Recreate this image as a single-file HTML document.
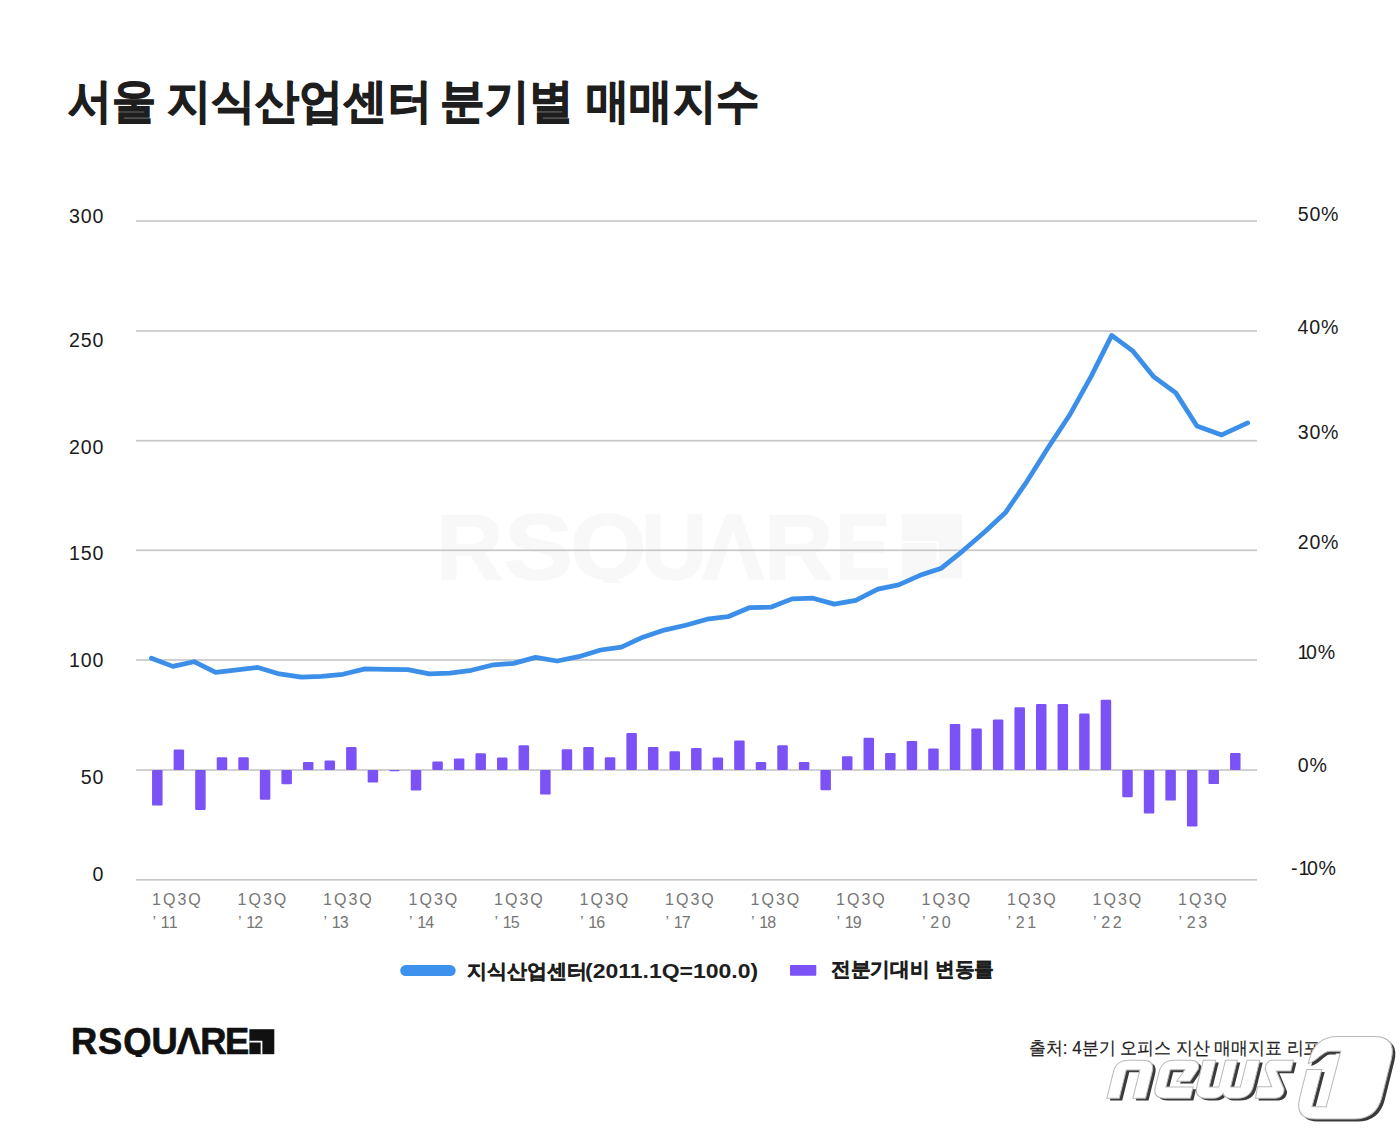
<!DOCTYPE html>
<html><head><meta charset="utf-8"><style>
html,body{margin:0;padding:0;background:#fff;}
body{width:1400px;height:1134px;position:relative;overflow:hidden;font-family:"Liberation Sans",sans-serif;}
.t{position:absolute;white-space:nowrap;}
svg{position:absolute;left:0;top:0;}
</style></head><body>
<div style="position:absolute;left:0;top:480px;width:1000px;height:103px;overflow:hidden;font-size:92px;line-height:92px;font-weight:bold;color:#f8f8f8;-webkit-text-stroke:1.5px #f8f8f8;z-index:0;"><div style="position:absolute;left:436.30px;top:21.12px;transform:scaleX(1.0109);transform-origin:0 0;">R</div><div style="position:absolute;left:503.56px;top:21.12px;transform:scaleX(1.1214);transform-origin:0 0;">S</div><div style="position:absolute;left:570.24px;top:21.12px;transform:scaleX(1.0666);transform-origin:0 0;">Q</div><div style="position:absolute;left:640.91px;top:21.12px;transform:scaleX(0.9960);transform-origin:0 0;">U</div><div style="position:absolute;left:701.97px;top:21.12px;transform:scaleX(1.0120);transform-origin:0 0;">&#923;</div><div style="position:absolute;left:763.58px;top:21.12px;transform:scaleX(1.0469);transform-origin:0 0;">R</div><div style="position:absolute;left:834.86px;top:21.12px;transform:scaleX(0.9035);transform-origin:0 0;">E</div></div>
<svg width="1400" height="1134" viewBox="0 0 1400 1134">
<path fill="#f8f8f8" d="M901.7 514h60.3v64.5h-60.3z"/><path fill="none" stroke="#fff" stroke-width="2.4" d="M901.7 542.1H937.6V578.5"/>
<rect x="136" y="220.15" width="1121" height="1.7" fill="#c8c8c8"/>
<rect x="136" y="330.15" width="1121" height="1.7" fill="#c8c8c8"/>
<rect x="136" y="439.85" width="1121" height="1.7" fill="#c8c8c8"/>
<rect x="136" y="549.45" width="1121" height="1.7" fill="#c8c8c8"/>
<rect x="136" y="659.15" width="1121" height="1.7" fill="#c8c8c8"/>
<rect x="136" y="769.15" width="1121" height="1.7" fill="#c8c8c8"/>
<rect x="136" y="878.95" width="1121" height="1.7" fill="#c8c8c8"/>
<rect x="152.05" y="770.00" width="10.5" height="35.60" rx="1.2" fill="#7b52f5"/>
<rect x="173.61" y="749.50" width="10.5" height="20.50" rx="1.2" fill="#7b52f5"/>
<rect x="195.17" y="770.00" width="10.5" height="40.00" rx="1.2" fill="#7b52f5"/>
<rect x="216.73" y="757.30" width="10.5" height="12.70" rx="1.2" fill="#7b52f5"/>
<rect x="238.29" y="757.30" width="10.5" height="12.70" rx="1.2" fill="#7b52f5"/>
<rect x="259.85" y="770.00" width="10.5" height="29.80" rx="1.2" fill="#7b52f5"/>
<rect x="281.41" y="770.00" width="10.5" height="14.30" rx="1.2" fill="#7b52f5"/>
<rect x="302.97" y="762.00" width="10.5" height="8.00" rx="1.2" fill="#7b52f5"/>
<rect x="324.53" y="760.50" width="10.5" height="9.50" rx="1.2" fill="#7b52f5"/>
<rect x="346.09" y="747.00" width="10.5" height="23.00" rx="1.2" fill="#7b52f5"/>
<rect x="367.65" y="770.00" width="10.5" height="12.40" rx="1.2" fill="#7b52f5"/>
<rect x="389.21" y="770.00" width="10.5" height="1.20" rx="1.2" fill="#7b52f5"/>
<rect x="410.77" y="770.00" width="10.5" height="20.50" rx="1.2" fill="#7b52f5"/>
<rect x="432.33" y="761.40" width="10.5" height="8.60" rx="1.2" fill="#7b52f5"/>
<rect x="453.89" y="758.60" width="10.5" height="11.40" rx="1.2" fill="#7b52f5"/>
<rect x="475.45" y="753.20" width="10.5" height="16.80" rx="1.2" fill="#7b52f5"/>
<rect x="497.01" y="757.50" width="10.5" height="12.50" rx="1.2" fill="#7b52f5"/>
<rect x="518.57" y="745.30" width="10.5" height="24.70" rx="1.2" fill="#7b52f5"/>
<rect x="540.13" y="770.00" width="10.5" height="24.60" rx="1.2" fill="#7b52f5"/>
<rect x="561.69" y="749.30" width="10.5" height="20.70" rx="1.2" fill="#7b52f5"/>
<rect x="583.25" y="747.00" width="10.5" height="23.00" rx="1.2" fill="#7b52f5"/>
<rect x="604.81" y="757.30" width="10.5" height="12.70" rx="1.2" fill="#7b52f5"/>
<rect x="626.37" y="733.10" width="10.5" height="36.90" rx="1.2" fill="#7b52f5"/>
<rect x="647.93" y="747.00" width="10.5" height="23.00" rx="1.2" fill="#7b52f5"/>
<rect x="669.49" y="751.20" width="10.5" height="18.80" rx="1.2" fill="#7b52f5"/>
<rect x="691.05" y="748.00" width="10.5" height="22.00" rx="1.2" fill="#7b52f5"/>
<rect x="712.61" y="757.50" width="10.5" height="12.50" rx="1.2" fill="#7b52f5"/>
<rect x="734.17" y="740.60" width="10.5" height="29.40" rx="1.2" fill="#7b52f5"/>
<rect x="755.73" y="762.00" width="10.5" height="8.00" rx="1.2" fill="#7b52f5"/>
<rect x="777.29" y="745.30" width="10.5" height="24.70" rx="1.2" fill="#7b52f5"/>
<rect x="798.85" y="762.00" width="10.5" height="8.00" rx="1.2" fill="#7b52f5"/>
<rect x="820.41" y="770.00" width="10.5" height="20.30" rx="1.2" fill="#7b52f5"/>
<rect x="841.97" y="756.20" width="10.5" height="13.80" rx="1.2" fill="#7b52f5"/>
<rect x="863.53" y="737.80" width="10.5" height="32.20" rx="1.2" fill="#7b52f5"/>
<rect x="885.09" y="753.00" width="10.5" height="17.00" rx="1.2" fill="#7b52f5"/>
<rect x="906.65" y="741.00" width="10.5" height="29.00" rx="1.2" fill="#7b52f5"/>
<rect x="928.21" y="748.50" width="10.5" height="21.50" rx="1.2" fill="#7b52f5"/>
<rect x="949.77" y="724.10" width="10.5" height="45.90" rx="1.2" fill="#7b52f5"/>
<rect x="971.33" y="728.60" width="10.5" height="41.40" rx="1.2" fill="#7b52f5"/>
<rect x="992.89" y="719.60" width="10.5" height="50.40" rx="1.2" fill="#7b52f5"/>
<rect x="1014.45" y="707.30" width="10.5" height="62.70" rx="1.2" fill="#7b52f5"/>
<rect x="1036.01" y="704.00" width="10.5" height="66.00" rx="1.2" fill="#7b52f5"/>
<rect x="1057.57" y="704.00" width="10.5" height="66.00" rx="1.2" fill="#7b52f5"/>
<rect x="1079.13" y="713.50" width="10.5" height="56.50" rx="1.2" fill="#7b52f5"/>
<rect x="1100.69" y="699.70" width="10.5" height="70.30" rx="1.2" fill="#7b52f5"/>
<rect x="1122.25" y="770.00" width="10.5" height="27.20" rx="1.2" fill="#7b52f5"/>
<rect x="1143.81" y="770.00" width="10.5" height="43.40" rx="1.2" fill="#7b52f5"/>
<rect x="1165.37" y="770.00" width="10.5" height="30.60" rx="1.2" fill="#7b52f5"/>
<rect x="1186.93" y="770.00" width="10.5" height="56.40" rx="1.2" fill="#7b52f5"/>
<rect x="1208.49" y="770.00" width="10.5" height="14.10" rx="1.2" fill="#7b52f5"/>
<rect x="1230.05" y="753.10" width="10.5" height="16.90" rx="1.2" fill="#7b52f5"/>
<polyline points="151.4,658.2 172.9,666.4 194.0,661.7 215.7,672.4 237.1,669.9 257.9,667.4 279.3,673.9 301.4,677.2 321.4,676.3 342.9,674.3 365.0,668.9 385.7,669.3 407.9,669.6 429.3,673.9 450.0,673.2 471.4,670.3 493.6,664.8 513.6,663.4 535.7,657.4 557.1,661.0 578.6,656.7 600.7,650.0 621.4,647.2 642.9,637.2 664.3,630.1 685.7,625.3 707.1,619.2 727.9,616.7 749.3,607.7 770.7,607.2 792.1,598.9 812.9,598.2 834.3,604.1 855.7,600.3 877.9,589.2 898.6,584.9 920.0,575.3 941.4,568.2 962.9,550.8 984.3,532.3 1005.3,512.8 1027.0,481.3 1048.4,447.3 1069.5,415.3 1091.4,375.9 1111.7,335.4 1133.0,351.2 1153.9,376.9 1175.8,392.9 1196.9,426.0 1221.7,434.9 1247.7,422.9" fill="none" stroke="#3b8fe9" stroke-width="4.75" stroke-linejoin="round" stroke-linecap="round"/>
<rect x="400.2" y="965.1" width="55.5" height="10.9" rx="5.45" fill="#3d92ee"/>
<rect x="790" y="965" width="26.3" height="10.8" rx="1" fill="#7b52f5"/>
<path fill="#111" d="M249.4 1029.2h24.9v25h-24.9z"/>
<path fill="none" stroke="#fff" stroke-width="1.7" d="M249.4 1041.7H261.5V1054.2"/>
</svg>
<div class="t" style="left:68.40px;top:78.00px;font-size:46.8px;line-height:46.8px;font-weight:bold;color:#1e1e1e;transform:scaleX(0.9351);transform-origin:0 0;-webkit-text-stroke:1.1px #1e1e1e;">서울</div>
<div class="t" style="left:167.09px;top:78.00px;font-size:46.8px;line-height:46.8px;font-weight:bold;color:#1e1e1e;transform:scaleX(0.9384);transform-origin:0 0;-webkit-text-stroke:1.1px #1e1e1e;">지식산업센터</div>
<div class="t" style="left:440.25px;top:78.00px;font-size:46.8px;line-height:46.8px;font-weight:bold;color:#1e1e1e;transform:scaleX(0.9493);transform-origin:0 0;-webkit-text-stroke:1.1px #1e1e1e;">분기별</div>
<div class="t" style="left:586.10px;top:78.00px;font-size:46.8px;line-height:46.8px;font-weight:bold;color:#1e1e1e;transform:scaleX(0.9242);transform-origin:0 0;-webkit-text-stroke:1.1px #1e1e1e;">매매지수</div>
<div class="t" style="right:1295.90px;top:207.41px;font-size:19.6px;line-height:19.6px;color:#1b1b1b;font-weight:normal;letter-spacing:0.8px;">300</div>
<div class="t" style="right:1295.90px;top:330.71px;font-size:19.6px;line-height:19.6px;color:#1b1b1b;font-weight:normal;letter-spacing:0.8px;">250</div>
<div class="t" style="right:1295.90px;top:438.01px;font-size:19.6px;line-height:19.6px;color:#1b1b1b;font-weight:normal;letter-spacing:0.8px;">200</div>
<div class="t" style="right:1295.90px;top:543.81px;font-size:19.6px;line-height:19.6px;color:#1b1b1b;font-weight:normal;letter-spacing:0.8px;">150</div>
<div class="t" style="right:1295.90px;top:650.71px;font-size:19.6px;line-height:19.6px;color:#1b1b1b;font-weight:normal;letter-spacing:0.8px;">100</div>
<div class="t" style="right:1295.90px;top:768.21px;font-size:19.6px;line-height:19.6px;color:#1b1b1b;font-weight:normal;letter-spacing:0.8px;">50</div>
<div class="t" style="right:1295.90px;top:865.31px;font-size:19.6px;line-height:19.6px;color:#1b1b1b;font-weight:normal;letter-spacing:0.8px;">0</div>
<div class="t" style="left:1297.70px;top:204.81px;font-size:19.6px;line-height:19.6px;color:#1b1b1b;font-weight:normal;letter-spacing:0.8px;">50%</div>
<div class="t" style="left:1297.50px;top:318.01px;font-size:19.6px;line-height:19.6px;color:#1b1b1b;font-weight:normal;letter-spacing:0.8px;">40%</div>
<div class="t" style="left:1297.70px;top:422.71px;font-size:19.6px;line-height:19.6px;color:#1b1b1b;font-weight:normal;letter-spacing:0.8px;">30%</div>
<div class="t" style="left:1297.70px;top:533.01px;font-size:19.6px;line-height:19.6px;color:#1b1b1b;font-weight:normal;letter-spacing:0.8px;">20%</div>
<div class="t" style="left:1297.50px;top:643.41px;font-size:19.6px;line-height:19.6px;color:#1b1b1b;font-weight:normal;letter-spacing:0.8px;"><span style="letter-spacing:-2.4px">1</span>0%</div>
<div class="t" style="left:1297.70px;top:755.71px;font-size:19.6px;line-height:19.6px;color:#1b1b1b;font-weight:normal;letter-spacing:0.8px;">0%</div>
<div class="t" style="left:1291.10px;top:858.81px;font-size:19.6px;line-height:19.6px;color:#1b1b1b;font-weight:normal;letter-spacing:0.8px;">-<span style="letter-spacing:-2.4px">1</span>0%</div>
<div class="t" style="left:152.10px;top:891.66px;font-size:16px;line-height:16px;color:#767676;font-weight:normal;letter-spacing:2.0px;">1Q3Q</div>
<div class="t" style="left:152.60px;top:914.86px;font-size:16px;line-height:16px;color:#767676;font-weight:normal;letter-spacing:2.6px;"><span style="letter-spacing:4.6px">&#8217;</span><span style="letter-spacing:-0.8px">1</span>1</div>
<div class="t" style="left:237.60px;top:891.66px;font-size:16px;line-height:16px;color:#767676;font-weight:normal;letter-spacing:2.0px;">1Q3Q</div>
<div class="t" style="left:238.10px;top:914.86px;font-size:16px;line-height:16px;color:#767676;font-weight:normal;letter-spacing:2.6px;"><span style="letter-spacing:4.6px">&#8217;</span><span style="letter-spacing:-0.8px">1</span>2</div>
<div class="t" style="left:323.10px;top:891.66px;font-size:16px;line-height:16px;color:#767676;font-weight:normal;letter-spacing:2.0px;">1Q3Q</div>
<div class="t" style="left:323.60px;top:914.86px;font-size:16px;line-height:16px;color:#767676;font-weight:normal;letter-spacing:2.6px;"><span style="letter-spacing:4.6px">&#8217;</span><span style="letter-spacing:-0.8px">1</span>3</div>
<div class="t" style="left:408.60px;top:891.66px;font-size:16px;line-height:16px;color:#767676;font-weight:normal;letter-spacing:2.0px;">1Q3Q</div>
<div class="t" style="left:409.10px;top:914.86px;font-size:16px;line-height:16px;color:#767676;font-weight:normal;letter-spacing:2.6px;"><span style="letter-spacing:4.6px">&#8217;</span><span style="letter-spacing:-0.8px">1</span>4</div>
<div class="t" style="left:494.10px;top:891.66px;font-size:16px;line-height:16px;color:#767676;font-weight:normal;letter-spacing:2.0px;">1Q3Q</div>
<div class="t" style="left:494.60px;top:914.86px;font-size:16px;line-height:16px;color:#767676;font-weight:normal;letter-spacing:2.6px;"><span style="letter-spacing:4.6px">&#8217;</span><span style="letter-spacing:-0.8px">1</span>5</div>
<div class="t" style="left:579.60px;top:891.66px;font-size:16px;line-height:16px;color:#767676;font-weight:normal;letter-spacing:2.0px;">1Q3Q</div>
<div class="t" style="left:580.10px;top:914.86px;font-size:16px;line-height:16px;color:#767676;font-weight:normal;letter-spacing:2.6px;"><span style="letter-spacing:4.6px">&#8217;</span><span style="letter-spacing:-0.8px">1</span>6</div>
<div class="t" style="left:665.10px;top:891.66px;font-size:16px;line-height:16px;color:#767676;font-weight:normal;letter-spacing:2.0px;">1Q3Q</div>
<div class="t" style="left:665.60px;top:914.86px;font-size:16px;line-height:16px;color:#767676;font-weight:normal;letter-spacing:2.6px;"><span style="letter-spacing:4.6px">&#8217;</span><span style="letter-spacing:-0.8px">1</span>7</div>
<div class="t" style="left:750.60px;top:891.66px;font-size:16px;line-height:16px;color:#767676;font-weight:normal;letter-spacing:2.0px;">1Q3Q</div>
<div class="t" style="left:751.10px;top:914.86px;font-size:16px;line-height:16px;color:#767676;font-weight:normal;letter-spacing:2.6px;"><span style="letter-spacing:4.6px">&#8217;</span><span style="letter-spacing:-0.8px">1</span>8</div>
<div class="t" style="left:836.10px;top:891.66px;font-size:16px;line-height:16px;color:#767676;font-weight:normal;letter-spacing:2.0px;">1Q3Q</div>
<div class="t" style="left:836.60px;top:914.86px;font-size:16px;line-height:16px;color:#767676;font-weight:normal;letter-spacing:2.6px;"><span style="letter-spacing:4.6px">&#8217;</span><span style="letter-spacing:-0.8px">1</span>9</div>
<div class="t" style="left:921.60px;top:891.66px;font-size:16px;line-height:16px;color:#767676;font-weight:normal;letter-spacing:2.0px;">1Q3Q</div>
<div class="t" style="left:922.10px;top:914.86px;font-size:16px;line-height:16px;color:#767676;font-weight:normal;letter-spacing:2.6px;"><span style="letter-spacing:4.6px">&#8217;</span>20</div>
<div class="t" style="left:1007.10px;top:891.66px;font-size:16px;line-height:16px;color:#767676;font-weight:normal;letter-spacing:2.0px;">1Q3Q</div>
<div class="t" style="left:1007.60px;top:914.86px;font-size:16px;line-height:16px;color:#767676;font-weight:normal;letter-spacing:2.6px;"><span style="letter-spacing:4.6px">&#8217;</span>21</div>
<div class="t" style="left:1092.60px;top:891.66px;font-size:16px;line-height:16px;color:#767676;font-weight:normal;letter-spacing:2.0px;">1Q3Q</div>
<div class="t" style="left:1093.10px;top:914.86px;font-size:16px;line-height:16px;color:#767676;font-weight:normal;letter-spacing:2.6px;"><span style="letter-spacing:4.6px">&#8217;</span>22</div>
<div class="t" style="left:1178.10px;top:891.66px;font-size:16px;line-height:16px;color:#767676;font-weight:normal;letter-spacing:2.0px;">1Q3Q</div>
<div class="t" style="left:1178.60px;top:914.86px;font-size:16px;line-height:16px;color:#767676;font-weight:normal;letter-spacing:2.6px;"><span style="letter-spacing:4.6px">&#8217;</span>23</div>
<div class="t" style="left:466.80px;top:960.60px;font-size:20px;line-height:20px;font-weight:bold;color:#1e1e1e;transform:scaleX(1.0000);transform-origin:0 0;-webkit-text-stroke:0.35px #1e1e1e;">지식산업센터</div>
<div class="t" style="left:584.62px;top:962.39px;font-size:19.5px;line-height:19.5px;font-weight:bold;color:#1e1e1e;transform:scaleX(1.179);transform-origin:0 0;">(2011.1Q=100.0)</div>
<div class="t" style="left:831.01px;top:959.00px;font-size:20px;line-height:20px;font-weight:bold;color:#1e1e1e;transform:scaleX(0.9850);transform-origin:0 0;-webkit-text-stroke:0.35px #1e1e1e;">전분기대비 변동률</div>
<div class="t" style="left:1028.50px;top:1038.60px;font-size:18px;line-height:18px;font-weight:normal;color:#222;transform:scaleX(0.9400);transform-origin:0 0;-webkit-text-stroke:0.2px #222;">출처: 4분기 오피스 지산 매매지표 리포트</div>
<div style="position:absolute;left:60px;top:1000px;width:200px;height:56.6px;overflow:hidden;font-size:36.3px;line-height:36.3px;font-weight:bold;color:#111;-webkit-text-stroke:0.7px #111;"><span style="position:absolute;left:10.90px;top:23.97px;">R</span><span style="position:absolute;left:38.10px;top:23.97px;">S</span><span style="position:absolute;left:63.30px;top:23.97px;">Q</span><span style="position:absolute;left:91.40px;top:23.97px;">U</span><span style="position:absolute;left:116.60px;top:23.97px;">&#923;</span><span style="position:absolute;left:140.30px;top:23.97px;">R</span><span style="position:absolute;left:165.10px;top:23.97px;">E</span></div>
<svg width="1400" height="1134" viewBox="0 0 1400 1134">
<g transform="translate(1100,1060.3) skewX(-14) scale(1,0.9475)"><path d="M16.3,40 L16.3,12 Q16.3,0 28.3,0 L43,0 Q55,0 55,12 L55,40 L42.3,40 L42.3,10.3 L28.7,10.3 L28.7,40 Z" fill="#3a3a3a" transform="translate(3.55,2.4)"/><path d="M16.3,40 L16.3,12 Q16.3,0 28.3,0 L43,0 Q55,0 55,12 L55,40 L42.3,40 L42.3,10.3 L28.7,10.3 L28.7,40 Z" fill="#fff" stroke="#b9b9b9" stroke-width="1.05"/></g>
<g transform="translate(1100,1060.3) skewX(-14) scale(1,0.9475)"><path d="M62,12 Q62,0 74,0 L90,0 Q100.4,0 100.4,9.3 L95.2,22 L82,22 L87.3,10.1 L72.6,10.1 L72.6,28.2 L99.8,28.2 L99.8,40 L74,40 Q62,40 62,28 Z" fill="#3a3a3a" transform="translate(3.55,2.4)"/><path d="M62,12 Q62,0 74,0 L90,0 Q100.4,0 100.4,9.3 L95.2,22 L82,22 L87.3,10.1 L72.6,10.1 L72.6,28.2 L99.8,28.2 L99.8,40 L74,40 Q62,40 62,28 Z" fill="#fff" stroke="#b9b9b9" stroke-width="1.05"/></g>
<g transform="translate(1100,1060.3) skewX(-14) scale(1,0.9475)"><path d="M103.3,0 L115.8,0 L115.8,28.2 L125.5,28.2 L125.5,0 L137.3,0 L137.3,28.2 L147,28.2 L147,0 L159.8,0 L159.8,27 Q159.8,40 146.8,40 L140,40 Q134,40 131.4,35 Q128.8,40 122.8,40 L116.3,40 Q103.3,40 103.3,27 Z" fill="#3a3a3a" transform="translate(3.55,2.4)"/><path d="M103.3,0 L115.8,0 L115.8,28.2 L125.5,28.2 L125.5,0 L137.3,0 L137.3,28.2 L147,28.2 L147,0 L159.8,0 L159.8,27 Q159.8,40 146.8,40 L140,40 Q134,40 131.4,35 Q128.8,40 122.8,40 L116.3,40 Q103.3,40 103.3,27 Z" fill="#fff" stroke="#b9b9b9" stroke-width="1.05"/></g>
<g transform="translate(1100,1060.3) skewX(-14) scale(1,0.9475)"><path d="M172,0 L193.5,0 L193.5,11.2 L179,11.2 L191,30 C193,35 190.5,40 184.7,40 L165,40 L164,28 L178.2,28 L167.3,9.2 C166.5,4 168,0 172,0 Z" fill="#3a3a3a" transform="translate(3.55,2.4)"/><path d="M172,0 L193.5,0 L193.5,11.2 L179,11.2 L191,30 C193,35 190.5,40 184.7,40 L165,40 L164,28 L178.2,28 L167.3,9.2 C166.5,4 168,0 172,0 Z" fill="#fff" stroke="#b9b9b9" stroke-width="1.05"/></g>
<g transform="translate(1290,1036.6) skewX(-14)"><path d="M25,27 L25,23 Q25,0 48,0 L84,0 Q107,0 107,23 L107,60.5 Q107,82.5 85,82.5 L46,82.5 Q25,82.5 25,61.5 L25,33 L40,33 L39.5,70.1 L53.7,70.1 L54.4,14.6 L43,14.6 C36,15 33,25 25,27 Z" fill="#3a3a3a" transform="translate(3.55,2.4)"/><path d="M25,27 L25,23 Q25,0 48,0 L84,0 Q107,0 107,23 L107,60.5 Q107,82.5 85,82.5 L46,82.5 Q25,82.5 25,61.5 L25,33 L40,33 L39.5,70.1 L53.7,70.1 L54.4,14.6 L43,14.6 C36,15 33,25 25,27 Z" fill="#fff" stroke="#b9b9b9" stroke-width="1.05"/></g>
</svg>
</body></html>
